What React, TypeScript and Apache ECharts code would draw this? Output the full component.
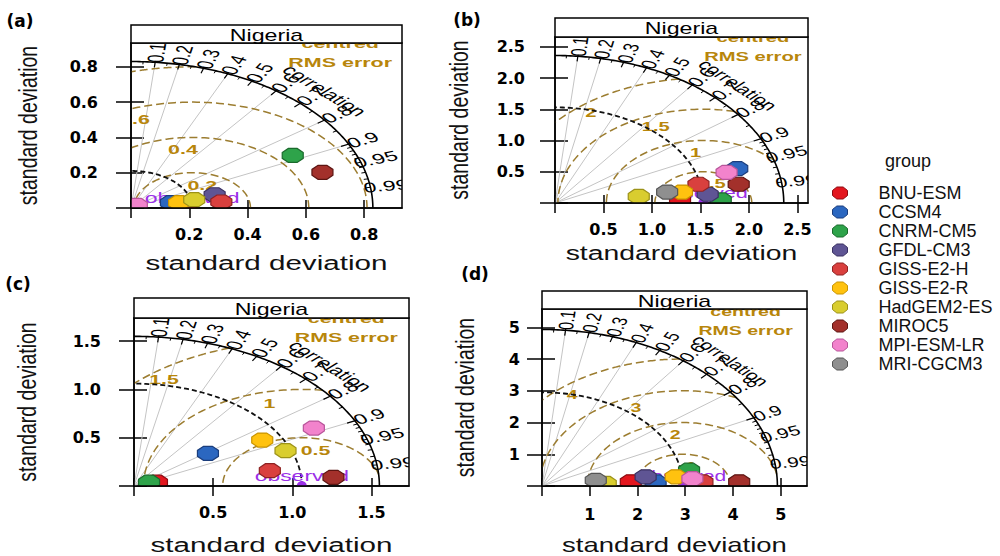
import React, { useEffect, useRef } from "react";
import * as echarts from "echarts";

// ---------- data ----------
const MODELS = ["BNU-ESM", "CCSM4", "CNRM-CM5", "GFDL-CM3", "GISS-E2-H", "GISS-E2-R", "HadGEM2-ES", "MIROC5", "MPI-ESM-LR", "MRI-CGCM3"];
const REGION = "Nigeria";
const PANEL_TAGS = ["(a)", "(b)", "(c)", "(d)"];

// model positions: x = sd * correlation, y = sd * sqrt(1 - correlation^2)  (null = not visible)
const A_X = [0.19, 0.137, 0.555, 0.287, 0.31, 0.165, 0.217, 0.657, 0.02, null];
const A_Y = [0.02, 0.03, 0.298, 0.075, 0.034, 0.03, 0.047, 0.202, 0.015, null];
const B_X = [1.29, 1.88, 1.71, 1.575, 1.48, 1.31, 0.864, 1.895, 1.77, 1.157];
const B_Y = [0.05, 0.55, 0.05, 0.14, 0.30, 0.175, 0.105, 0.30, 0.49, 0.175];
const C_X = [0.145, 0.467, 0.095, null, 0.858, 0.81, 0.957, 1.26, 1.136, null];
const C_Y = [0.04, 0.338, 0.04, null, 0.159, 0.476, 0.366, 0.09, 0.60, null];
const D_X = [1.86, 2.38, 3.08, 2.17, 3.36, 2.80, 1.335, 4.13, 3.15, 1.126];
const D_Y = [0.13, 0.13, 0.50, 0.29, 0.13, 0.29, 0.08, 0.13, 0.23, 0.18];
const PX = [A_X, B_X, C_X, D_X];
const PY = [A_Y, B_Y, C_Y, D_Y];

const SD_MAX = [0.83, 2.36, 1.55, 4.93];
const SD_OBS = [0.21, 1.53, 1.06, 2.95];
const RMS_A = [0.2, 0.4, 0.6, 0.8];
const RMS_B = [0.5, 1, 1.5, 2];
const RMS_C = [0.5, 1, 1.5];
const RMS_D = [1, 2, 3, 4];
const RMS_LEVELS = [RMS_A, RMS_B, RMS_C, RMS_D];

const CORR_LINES = [0.1, 0.2, 0.4, 0.6, 0.8, 0.9];
const CORR_LABELS = [0.1, 0.2, 0.3, 0.4, 0.5, 0.6, 0.7, 0.8, 0.9, 0.95, 0.99];
const CORR_BIG = [0.1, 0.2, 0.3, 0.4, 0.5, 0.6, 0.7, 0.8, 0.9];
const CORR_MED = [0.05, 0.15, 0.25, 0.35, 0.45, 0.55, 0.65, 0.75, 0.85, 0.95];
const CORR_SMALL = [0.91, 0.92, 0.93, 0.94, 0.96, 0.97, 0.98, 0.99];

const TICKS_A = [0, 0.2, 0.4, 0.6, 0.8];
const TICKS_B = [0, 0.5, 1, 1.5, 2, 2.5];
const TICKS_C = [0, 0.5, 1, 1.5];
const TICKS_D = [0, 1, 2, 3, 4, 5];
const TICKS = [TICKS_A, TICKS_B, TICKS_C, TICKS_D];
const DECIMALS = [1, 1, 1, 0];

// ---------- styling / layout ----------
const MODEL_FILL = ["#e3161e", "#2b67c0", "#2ea34a", "#5f5594", "#d9403e", "#ffc20f", "#d9cd2f", "#a3302b", "#f283cc", "#8f8f8f"];
const MODEL_EDGE = ["#8c0a10", "#1a3d7c", "#1a6a2c", "#3a3162", "#8e2222", "#c99400", "#9c9218", "#5c1512", "#b8559a", "#555555"];
const TAN = "#b8860b";
const CONTOUR = "#9c7d30";
const OBS_COL = "#9b30e8";
const OCT = "path://M29,0L71,0L100,29L100,71L71,100L29,100L0,71L0,29Z";
const FONT = '"Liberation Sans", Arial, sans-serif';

const LAYOUT = [
  { left: 131, top: 43, width: 271, height: 165, stripTop: 25, xMax: 0.93, yMax: 0.935, yLM: 33, xLM: 18, xTitleY: 263, xTitleS: 1.41, yTitleX: 28, tag: [20, 21] },
  { left: 555, top: 37, width: 253, height: 166, stripTop: 18, xMax: 2.61, yMax: 2.656, yLM: 30, xLM: 18, xTitleY: 252, xTitleS: 1.35, yTitleX: 459, tag: [467, 20] },
  { left: 134, top: 318, width: 275, height: 168, stripTop: 298, xMax: 1.737, yMax: 1.74, yLM: 33, xLM: 18, xTitleY: 545, xTitleS: 1.41, yTitleX: 27, tag: [18, 284] },
  { left: 542, top: 309, width: 265, height: 177, stripTop: 291, xMax: 5.55, yMax: 5.575, yLM: 22, xLM: 20, xTitleY: 545, xTitleS: 1.31, yTitleX: 465, tag: [475, 274] },
];

function octagon(cx: number, cy: number, w: number, h: number) {
  const k = 0.42;
  return [
    [cx - w * k, cy - h], [cx + w * k, cy - h], [cx + w, cy - h * k], [cx + w, cy + h * k],
    [cx + w * k, cy + h], [cx - w * k, cy + h], [cx - w, cy + h * k], [cx - w, cy - h * k],
  ];
}

const makeFrame = (p: number) => (_params: any, api: any) => {
  const M = SD_MAX[p];
  const c = SD_OBS[p];
  const levels = RMS_LEVELS[p];
  const pt = (x: number, y: number) => api.coord([x, y]);
  const o = pt(0, 0);
  const ux = pt(1, 0)[0] - o[0];
  const uy = o[1] - pt(0, 1)[1];
  const s = ux / uy;
  const kids: any[] = [];
  const line = (pts: any[], stroke: string, lw: number, dash?: number[]) =>
    kids.push({ type: "polyline", shape: { points: pts }, style: { stroke, lineWidth: lw, fill: "none", lineDash: dash || null } });
  const circ = (cx: number, r: number, a0: number, a1: number, n = 90) => {
    const pts: any[] = [];
    for (let i = 0; i <= n; i++) {
      const a = a0 + ((a1 - a0) * i) / n;
      pts.push(pt(cx + r * Math.cos(a), r * Math.sin(a)));
    }
    return pts;
  };
  const stext = (x: number, y: number, text: string, rot: number, font: string, fill: string) =>
    kids.push({
      type: "group", x, y, scaleX: s,
      children: [{ type: "text", rotation: rot, style: { text, font, fill, align: "center", verticalAlign: "middle" } }],
    });

  // correlation grid lines
  CORR_LINES.forEach((k) => line([o, pt(M * k, M * Math.sqrt(1 - k * k))], "#c4c4c4", 1));

  // centred RMS contours
  const n = levels.length;
  levels.forEach((r, k) => {
    let a0 = 0;
    let a1 = Math.PI;
    const cs = (M * M - c * c - r * r) / (2 * c * r);
    if (cs > -1) {
      if (cs < 1) a0 = Math.acos(cs);
      if (r > c) a1 = Math.acos(-c / r);
      if (a0 < a1) line(circ(c, r, a0, a1), CONTOUR, 1.5, [8, 4]);
    }
    const idx = Math.floor(45 + (n > 1 ? (k * 25) / (n - 1) : 0));
    const a = ((idx - 1) * Math.PI) / 99;
    const q = pt(c + r * Math.cos(a), r * Math.sin(a));
    stext(q[0], q[1] + 12, String(r), 0, `bold 13px ${FONT}`, TAN);
  });

  // observed sd arc
  line(circ(0, c, 0, Math.PI / 2), "#111", 1.8, [5, 3]);
  // outer sd arc
  line(circ(0, M, 0, Math.PI / 2, 140), "#000", 1.6);
  // ticks on outer arc
  CORR_BIG.forEach((k) => {
    const sn = Math.sqrt(1 - k * k);
    line([pt(0.965 * M * k, 0.965 * M * sn), pt(1.01 * M * k, 1.01 * M * sn)], "#000", 1.2);
  });
  CORR_MED.concat(CORR_SMALL).forEach((k) => {
    const sn = Math.sqrt(1 - k * k);
    line([pt(0.982 * M * k, 0.982 * M * sn), pt(M * k, M * sn)], "#000", 1);
  });
  // correlation labels
  CORR_LABELS.forEach((k) => {
    const a = Math.acos(k);
    const q = pt(1.065 * M * k, 1.065 * M * Math.sin(a));
    stext(q[0], q[1], String(k), a, `14px ${FONT}`, "#000");
  });
  const qc = pt(0.8 * M, 0.8 * M);
  stext(qc[0], qc[1], "correlation", -Math.PI / 4, `14px ${FONT}`, "#000");
  const qr = pt(0.865 * M, 0.99 * M);
  stext(qr[0], qr[1], "RMS error", 0, `bold 13px ${FONT}`, TAN);
  stext(qr[0], qr[1] - 19, "centred", 0, `bold 13px ${FONT}`, TAN);

  // observed point and label
  const qo = pt(c, 0);
  kids.push({ type: "circle", shape: { cx: qo[0], cy: qo[1], r: 5 }, style: { fill: OBS_COL } });
  const qt = pt(c, 0.065 * M);
  stext(qt[0], qt[1], "observed", 0, `14px ${FONT}`, OBS_COL);

  return { type: "group", children: kids };
};

function buildOption() {
  const grid: any[] = [];
  const xAxis: any[] = [];
  const yAxis: any[] = [];
  const series: any[] = [];
  const graphic: any[] = [];
  const tickStyle = { color: "#000", width: 1.5 };

  LAYOUT.forEach((L, p) => {
    const stripH = L.top - L.stripTop;
    const fmt = (v: any) => Number(v).toFixed(DECIMALS[p]);
    const labels = TICKS[p].filter((v) => v > 0);
    grid.push({ left: L.left, top: L.top, width: L.width, height: L.height, show: true, borderColor: "#000", borderWidth: 1.5, backgroundColor: "rgba(0,0,0,0)" });
    xAxis.push({
      gridIndex: p, type: "value", min: 0, max: L.xMax, position: "bottom", z: 5,
      axisLine: { show: true, onZero: false, lineStyle: tickStyle },
      axisTick: { show: true, length: 10, customValues: TICKS[p], lineStyle: tickStyle },
      axisLabel: { show: true, customValues: labels, formatter: fmt, margin: L.xLM, fontFamily: "DejaVu Sans", fontWeight: "bold", fontSize: 16, color: "#000" },
      splitLine: { show: false },
    });
    xAxis.push({
      gridIndex: p, type: "value", min: 0, max: L.xMax, position: "top", offset: stripH,
      axisLine: { show: false },
      axisTick: { show: true, length: 8, customValues: TICKS[p], lineStyle: tickStyle },
      axisLabel: { show: false }, splitLine: { show: false },
    });
    yAxis.push({
      gridIndex: p, type: "value", min: 0, max: L.yMax, position: "left", z: 5,
      axisLine: { show: true, onZero: false, lineStyle: tickStyle },
      axisTick: { show: true, length: 15, customValues: TICKS[p], lineStyle: tickStyle },
      axisLabel: { show: true, customValues: labels, formatter: fmt, margin: L.yLM, fontFamily: "DejaVu Sans", fontWeight: "bold", fontSize: 16, color: "#000" },
      splitLine: { show: false },
    });
    yAxis.push({
      gridIndex: p, type: "value", min: 0, max: L.yMax, position: "right",
      axisLine: { show: false },
      axisTick: { show: true, length: 13, customValues: TICKS[p], lineStyle: tickStyle },
      axisLabel: { show: false }, splitLine: { show: false },
    });

    series.push({
      type: "custom", name: "frame" + p, xAxisIndex: 2 * p, yAxisIndex: 2 * p,
      data: [[0, 0]], renderItem: makeFrame(p), clip: true, silent: true, z: 2,
    });
    MODELS.forEach((m, j) => {
      const x = PX[p][j];
      const y = PY[p][j];
      series.push({
        type: "custom", name: m, xAxisIndex: 2 * p, yAxisIndex: 2 * p, clip: true, z: 3, silent: true,
        itemStyle: { color: MODEL_FILL[j] },
        data: x == null || y == null ? [] : [[x, y]],
        renderItem: (_params: any, api: any) => {
          const q = api.coord([api.value(0), api.value(1)]);
          return {
            type: "polygon",
            shape: { points: octagon(q[0], q[1], 10.5, 7) },
            style: { fill: MODEL_FILL[j], stroke: MODEL_EDGE[j], lineWidth: 1.2 },
          };
        },
      });
    });

    // strip
    graphic.push({
      type: "rect", shape: { x: L.left, y: L.stripTop, width: L.width, height: stripH },
      style: { fill: "#fff", stroke: "#000", lineWidth: 1.5 }, z: 10,
    });
    graphic.push({
      type: "text", x: L.left + L.width / 2, y: L.stripTop + stripH / 2 + 1, scaleX: 1.45, z: 11,
      style: { text: REGION, font: `16px ${FONT}`, fill: "#000", align: "center", verticalAlign: "middle", textAlign: "center", textVerticalAlign: "middle" },
    });
    // panel tag
    graphic.push({
      type: "text", x: L.tag[0], y: L.tag[1], z: 11,
      style: { text: PANEL_TAGS[p], font: `bold 17px "DejaVu Sans"`, fill: "#000", align: "center", verticalAlign: "middle", textAlign: "center", textVerticalAlign: "middle" },
    });
    // axis titles
    graphic.push({
      type: "text", x: L.left + L.width / 2, y: L.xTitleY, scaleX: L.xTitleS, z: 11,
      style: { text: "standard deviation", font: `21px ${FONT}`, fill: "#111", align: "center", verticalAlign: "middle", textAlign: "center", textVerticalAlign: "middle" },
    });
    graphic.push({
      type: "text", x: L.yTitleX, y: L.top + L.height / 2, rotation: Math.PI / 2, scaleY: 1.35, z: 11,
      style: { text: "standard deviation", font: `19.5px ${FONT}`, fill: "#111", align: "center", verticalAlign: "middle", textAlign: "center", textVerticalAlign: "middle" },
    });
  });

  graphic.push({
    type: "text", x: 908, y: 161, z: 11,
    style: { text: "group", font: `18px ${FONT}`, fill: "#111", align: "center", verticalAlign: "middle", textAlign: "center", textVerticalAlign: "middle" },
  });

  return {
    animation: false,
    backgroundColor: "#fff",
    grid, xAxis, yAxis, series,
    graphic: { elements: graphic },
    legend: {
      orient: "vertical", left: 827, top: 178.5,
      itemWidth: 15, itemHeight: 12, itemGap: 0, symbolKeepAspect: false,
      icon: OCT, selectedMode: false,
      textStyle: { fontFamily: FONT, fontSize: 18, color: "#111", lineHeight: 19, padding: [0, 0, 0, 26] },
      data: MODELS.map((m, j) => ({ name: m, icon: OCT, itemStyle: { color: MODEL_FILL[j], borderColor: MODEL_EDGE[j], borderWidth: 1 } })),
    },
  };
}

export default function App() {
  const ref = useRef<HTMLDivElement>(null);
  useEffect(() => {
    const chart = echarts.init(ref.current!, null, { renderer: "svg" });
    chart.setOption(buildOption() as any);
    return () => chart.dispose();
  }, []);
  return <div ref={ref} style={{ position: "fixed", left: 0, top: 0, width: 1000, height: 556 }} />;
}
